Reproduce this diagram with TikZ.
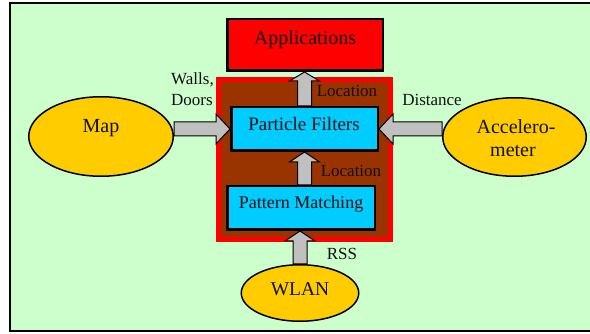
\documentclass[tikz,border=0pt]{standalone}
\usepackage{fontspec}
\setmainfont{Liberation Serif}
\usetikzlibrary{shapes.geometric,calc}
\definecolor{bggreen}{HTML}{CCFFCC}
\definecolor{appred}{HTML}{FF0000}
\definecolor{brownfill}{HTML}{993300}
\definecolor{boxcyan}{HTML}{00CCFF}
\definecolor{ellgold}{HTML}{FFCC00}
\definecolor{arrgray}{HTML}{C0C0C0}
\definecolor{txt}{HTML}{101010}
\newcommand{\blockarrow}[3]{%
  \coordinate (ba-h) at ($(#2)!#3!(#1)$);
  \draw[arrowsty] ($(#1)!7pt!90:(#2)$) -- ($(ba-h)!7pt!90:(#2)$) -- ($(ba-h)!15pt!90:(#2)$) -- (#2)
    -- ($(ba-h)!15pt!-90:(#2)$) -- ($(ba-h)!7pt!-90:(#2)$) -- ($(#1)!7pt!-90:(#2)$) -- cycle;}
\begin{document}
\begin{tikzpicture}[x=1pt,y=-1pt,
  boxsty/.style={draw=black, line width=2.5pt, inner sep=0pt},
  ellsty/.style={ellipse, draw=black, line width=1.5pt, fill=ellgold, inner sep=0pt},
  arrowsty/.style={fill=arrgray, draw=black, line width=1pt, line join=miter},
  txtsty/.style={text=txt, inner sep=0pt, anchor=base},
  lbl/.style={txtsty, font=\fontsize{17}{21}\selectfont}]
\useasboundingbox (0,0) rectangle (590,334);
% frame
\draw[line width=2.5pt, fill=bggreen] (10,3) rectangle (594,331);
% container
\draw[line width=5pt, draw=appred, fill=brownfill] (218.5,79.5) rectangle (390.5,239.5);
% boxes
\node[boxsty, fill=appred, minimum width=155.5pt, minimum height=51.5pt] (apps) at (305,45) {};
\node[boxsty, fill=boxcyan, minimum width=146.5pt, minimum height=43.5pt] (pf) at (304.5,129) {};
\node[boxsty, fill=boxcyan, minimum width=147.5pt, minimum height=43.5pt] (pm) at (301,208) {};
\node[txtsty, font=\fontsize{20}{24}\selectfont] (appstxt) at (305,45) {Applications};
\node[txtsty, font=\fontsize{19}{23}\selectfont] (pftxt) at (304,131) {Particle Filters};
\node[txtsty, font=\fontsize{18}{22}\selectfont] (pmtxt) at (301,209) {Pattern Matching};
% ellipses
\node[ellsty, minimum width=144.5pt, minimum height=79.5pt] (map) at (101,136.5) {};
\node[ellsty, minimum width=143.5pt, minimum height=78.5pt] (acc) at (514.5,137) {};
\node[ellsty, minimum width=117.5pt, minimum height=56.5pt] (wlan) at (300,293) {};
\node[txtsty, font=\fontsize{20}{24}\selectfont] (maptxt) at (101,133) {Map};
\node[txtsty, font=\fontsize{20}{24}\selectfont] (acctxt1) at (516,134) {Accelero-};
\node[txtsty, font=\fontsize{20}{24}\selectfont] (acctxt2) at (513,157) {meter};
\node[txtsty, font=\fontsize{19.5}{23}\selectfont] (wlantxt) at (300,296) {WLAN};
% connectors
\coordinate (m1) at (map.east |- pf.west);
\coordinate (a1) at (acc.west |- pf.east);
\coordinate (p1) at (apps.south -| pf.north);
\coordinate (q1) at (pm.north -| pf.south);
\coordinate (w1) at (pm.south -| wlan.north);
\blockarrow{m1}{pf.west}{14pt}
\blockarrow{a1}{pf.east}{14pt}
\blockarrow{pf.north}{p1}{9pt}
\blockarrow{q1}{pf.south}{10pt}
\blockarrow{wlan.north}{w1}{10pt}
% labels
\node[lbl, anchor=base west] (walls) at (171,85) {Walls,};
\node[lbl, anchor=base west] (doors) at (171,106) {Doors};
\node[lbl] (loc1) at (347,97) {Location};
\node[lbl] (loc2) at (351,177) {Location};
\node[lbl] (dist) at (432,106) {Distance};
\node[lbl] (rss) at (342,260) {RSS};
\end{tikzpicture}
\end{document}
